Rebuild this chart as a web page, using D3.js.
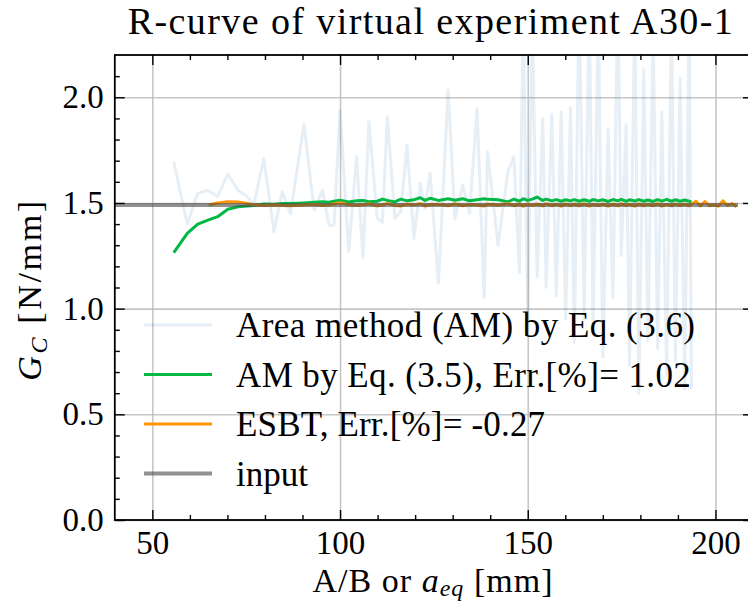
<!DOCTYPE html>
<html><head><meta charset="utf-8">
<script src="https://cdn.jsdelivr.net/npm/d3@7"></script>
<style>body{margin:0;background:#fff} svg{display:block}</style>
</head><body><svg id="c" width="748" height="603"></svg>
<script>
// ---------- data ----------
const amX = [55.7, 59.3, 62.1, 64.8, 67.4, 70.1, 72.8, 75.3, 77.0, 79.7, 82.4, 84.6, 86.8, 90.4, 93.1, 95.3, 97.1, 98.4, 100.0, 102.3,
  104.4, 106.1, 107.7, 109.9, 111.3, 112.6, 114.6, 116.2, 117.8, 119.7, 121.4, 122.6, 124.0, 126.2, 128.8, 130.6, 132.7, 134.5, 136.5, 138.4,
  139.3, 142.1, 144.7, 146.3, 147.8,
  148.8, 150.0, 151.2, 152.5, 154.0, 154.9, 156.4, 157.6, 158.9, 160.1, 161.4, 162.4, 163.7, 165.0, 166.4, 167.4, 168.8, 170.0, 171.4, 172.7,
  174.0, 174.9, 176.2, 177.1, 178.5, 179.6, 180.9, 182.0, 183.4, 184.6, 185.7, 187.0, 188.3, 189.3, 190.6, 191.8, 193.0, 193.6];
const amEq36 = [1.695, 1.40, 1.545, 1.56, 1.53, 1.637, 1.56, 1.53, 1.49, 1.71, 1.364, 1.553, 1.45, 1.873, 1.466, 1.56, 1.395, 1.395, 1.936, 1.27,
  1.72, 1.24, 1.884, 1.427, 1.41, 1.908, 1.427, 1.458, 1.774, 1.333, 1.593, 1.474, 1.64, 1.12, 2.034, 1.427, 1.585, 1.45, 1.947, 1.05,
  1.742, 1.30, 1.647, 1.72, 1.17,
  2.40, 0.95, 2.35, 1.15, 1.90, 1.10, 1.92, 1.06, 1.93, 0.95, 1.95, 0.84, 2.50, 0.95, 2.45, 0.90, 2.40, 0.77, 1.85, 1.05,
  2.50, 1.25, 1.87, 0.73, 2.40, 0.60, 2.13, 0.85, 2.30, 0.81, 1.93, 0.69, 2.40, 0.75, 2.09, 0.62, 2.40, 0.62];
const amEq35 = [1.265, 1.356, 1.40, 1.419, 1.435, 1.47, 1.482, 1.485, 1.488, 1.495, 1.494, 1.497, 1.497, 1.500, 1.503, 1.506, 1.503, 1.508, 1.513, 1.505,
  1.510, 1.512, 1.506, 1.508, 1.518, 1.512, 1.505, 1.518, 1.510, 1.515, 1.525, 1.512, 1.522, 1.512, 1.520, 1.513, 1.520, 1.510, 1.515, 1.520,
  1.517, 1.515, 1.505, 1.518, 1.508,
  1.520, 1.512, 1.518, 1.528, 1.512, 1.518, 1.510, 1.516, 1.508, 1.515, 1.510, 1.516, 1.508, 1.515, 1.508, 1.516, 1.510, 1.515, 1.507, 1.516,
  1.510, 1.517, 1.508, 1.515, 1.509, 1.516, 1.508, 1.514, 1.507, 1.516, 1.509, 1.517, 1.508, 1.515, 1.508, 1.514, 1.508, 1.505];
const esbtX = [65.0, 67.4, 70.1, 72.8, 75.3, 77.0, 79.7, 82.4, 84.6, 86.8, 90.4, 93.1, 95.3, 97.1, 98.4, 100.0, 102.3, 104.4, 106.1, 107.7,
  109.9, 111.3, 112.6, 114.6, 116.2, 117.8, 119.7, 121.4, 122.6, 124.0, 126.2, 128.8, 130.6, 132.7, 134.5, 136.5, 138.4, 139.3, 142.1, 144.7,
  146.3, 147.8,
  148.8, 150.0, 151.2, 152.5, 154.0, 154.9, 156.4, 157.6, 158.9, 160.1, 161.4, 162.4, 163.7, 165.0, 166.4, 167.4, 168.8, 170.0, 171.4, 172.7,
  174.0, 174.9, 176.2, 177.1, 178.5, 179.6, 180.9, 182.0, 183.4, 184.6, 185.7, 187.0, 188.3, 189.3, 190.6, 191.8, 193.0, 193.6,
  194.8, 196.0, 197.2, 198.4, 199.6, 200.8, 202.0, 203.2, 204.4, 205.6];
const esbtVals = [1.490, 1.500, 1.506, 1.505, 1.498, 1.492, 1.488, 1.490, 1.488, 1.487, 1.490, 1.493, 1.488, 1.490, 1.496, 1.501, 1.492, 1.488, 1.491, 1.496,
  1.486, 1.490, 1.498, 1.488, 1.486, 1.495, 1.490, 1.497, 1.486, 1.491, 1.494, 1.487, 1.496, 1.487, 1.493, 1.490, 1.486, 1.495, 1.489, 1.497,
  1.487, 1.495,
  1.485, 1.496, 1.487, 1.495, 1.486, 1.497, 1.487, 1.494, 1.485, 1.496, 1.487, 1.495, 1.486, 1.497, 1.485, 1.494, 1.487, 1.496, 1.485, 1.495,
  1.486, 1.497, 1.487, 1.494, 1.485, 1.496, 1.486, 1.495, 1.487, 1.497, 1.485, 1.494, 1.486, 1.496, 1.487, 1.495, 1.486, 1.494,
  1.508, 1.486, 1.506, 1.487, 1.490, 1.485, 1.510, 1.488, 1.497, 1.482];
const inputX = [40, 206];
const inputVals = [1.49, 1.49];

const xTicks = [50, 100, 150, 200];
const xMinor = [60, 70, 80, 90, 110, 120, 130, 140, 160, 170, 180, 190, 210];
const yTicks = [0.0, 0.5, 1.0, 1.5, 2.0];
const yMinor = [0.1, 0.2, 0.3, 0.4, 0.6, 0.7, 0.8, 0.9, 1.1, 1.2, 1.3, 1.4, 1.6, 1.7, 1.8, 1.9, 2.1];

const legendLabels = ["Area method (AM) by Eq. (3.6)", "AM by Eq. (3.5), Err.[%]= 1.02", "ESBT, Err.[%]= -0.27", "input"];
const titleText = "R-curve of virtual experiment A30-1";

// ---------- layout ----------
const L = 114.8, R = 753, T = 55, B = 520;
const FONT = "'Liberation Serif', 'DejaVu Serif', serif";
const svg = d3.select("#c");
const x = d3.scaleLinear().domain([40, 210]).range([L, R]);
const y = d3.scaleLinear().domain([0, 2.2]).range([B, T]);

svg.append("defs").append("clipPath").attr("id", "clip")
  .append("rect").attr("x", L).attr("y", T).attr("width", R - L).attr("height", B - T);

// grid
const grid = svg.append("g");
grid.append("g").attr("transform", `translate(0,${B})`)
  .call(d3.axisBottom(x).tickValues(xTicks).tickSize(-(B - T)).tickFormat(""))
  .call(g => g.select(".domain").remove());
grid.append("g").attr("transform", `translate(${L},0)`)
  .call(d3.axisLeft(y).tickValues(yTicks).tickSize(-(R - L)).tickFormat(""))
  .call(g => g.select(".domain").remove());
grid.selectAll("line").attr("stroke", "#b8b8b8").attr("stroke-width", 1.6).attr("stroke-opacity", 0.8);

// series
const plot = svg.append("g").attr("clip-path", "url(#clip)");
const line = d3.line().x(d => x(d[0])).y(d => y(d[1]));
function draw(xs, ys, color, w, op) {
  plot.append("path").datum(xs.map((v, i) => [v, ys[i]]))
    .attr("d", line).attr("fill", "none").attr("stroke", color)
    .attr("stroke-width", w).attr("stroke-opacity", op)
    .attr("stroke-linejoin", "round");
}
draw(amX, amEq36, "#0C5DA5", 3, 0.1);
draw(amX, amEq35, "#00B945", 3, 1);
draw(esbtX, esbtVals, "#FF9500", 3, 1);
draw(inputX, inputVals, "#474747", 4, 0.6);

// axes
function styleAxis(g) {
  g.select(".domain").remove();
  g.selectAll("line").attr("stroke", "#000").attr("stroke-width", 1.4);
  g.selectAll("text").attr("font-family", FONT).attr("font-size", 33).attr("fill", "#000");
}
svg.append("g").attr("transform", `translate(0,${B})`)
  .call(d3.axisBottom(x).tickValues(xTicks).tickSize(-10).tickPadding(11).tickFormat(d3.format("d"))).call(styleAxis);
svg.append("g").attr("transform", `translate(0,${B})`)
  .call(d3.axisBottom(x).tickValues(xMinor).tickSize(-5).tickFormat("")).call(styleAxis);
svg.append("g").attr("transform", `translate(0,${T})`)
  .call(d3.axisTop(x).tickValues(xTicks).tickSize(-10).tickFormat("")).call(styleAxis);
svg.append("g").attr("transform", `translate(0,${T})`)
  .call(d3.axisTop(x).tickValues(xMinor).tickSize(-5).tickFormat("")).call(styleAxis);
svg.append("g").attr("transform", `translate(${L},0)`)
  .call(d3.axisLeft(y).tickValues(yTicks).tickSize(-10).tickPadding(11).tickFormat(d3.format(".1f"))).call(styleAxis);
svg.append("g").attr("transform", `translate(${L},0)`)
  .call(d3.axisLeft(y).tickValues(yMinor).tickSize(-5).tickFormat("")).call(styleAxis);
svg.append("g").attr("transform", `translate(${R},0)`)
  .call(d3.axisRight(y).tickValues(yTicks).tickSize(-10).tickFormat("")).call(styleAxis);
svg.append("g").attr("transform", `translate(${R},0)`)
  .call(d3.axisRight(y).tickValues(yMinor).tickSize(-5).tickFormat("")).call(styleAxis);

svg.append("rect").attr("x", L).attr("y", T).attr("width", R - L).attr("height", B - T)
  .attr("fill", "none").attr("stroke", "#000").attr("stroke-width", 1.8);

function fit(sel, target) {
  const w = sel.node().getComputedTextLength();
  const n = sel.text().length;
  sel.attr("letter-spacing", ((target - w) / (n - 1)).toFixed(2));
}

// title
const tt = svg.append("text").attr("x", 431).attr("y", 34).attr("text-anchor", "middle")
  .attr("font-family", FONT).attr("font-size", 38).text(titleText);
fit(tt, 605);

// x label
const xl = svg.append("text").attr("x", 433).attr("y", 592).attr("text-anchor", "middle")
  .attr("font-family", FONT).attr("font-size", 34);
xl.append("tspan").text("A/B or ");
xl.append("tspan").attr("font-style", "italic").text("a");
xl.append("tspan").attr("font-style", "italic").attr("font-size", 24).attr("dy", 4).text("eq");
xl.append("tspan").attr("dy", -4).text(" [mm]");
fit(xl, 240);

// y label
const yl = svg.append("text").attr("transform", `translate(41,${(T + B) / 2 + 2}) rotate(-90)`)
  .attr("text-anchor", "middle").attr("font-family", FONT).attr("font-size", 34);
yl.append("tspan").attr("font-style", "italic").text("G");
yl.append("tspan").attr("font-style", "italic").attr("font-size", 24).attr("dy", 6).text("C");
yl.append("tspan").attr("dy", -6).text(" [N/mm]");
fit(yl, 180);

// legend
const legColors = ["#0C5DA5", "#00B945", "#FF9500", "#474747"];
const legOp = [0.1, 1, 1, 0.6];
const legW = [459, 455, 309, 72];
const rowY = [325, 374.5, 424, 473.5];
legendLabels.forEach((lab, i) => {
  svg.append("line").attr("x1", 144).attr("x2", 212).attr("y1", rowY[i]).attr("y2", rowY[i])
    .attr("stroke", legColors[i]).attr("stroke-opacity", legOp[i]).attr("stroke-width", i === 3 ? 4 : 3);
  const t = svg.append("text").attr("x", 236).attr("y", rowY[i]).attr("dy", "0.35em")
    .attr("font-family", FONT).attr("font-size", 35).text(lab);
  fit(t, legW[i]);
});
</script></body></html>
